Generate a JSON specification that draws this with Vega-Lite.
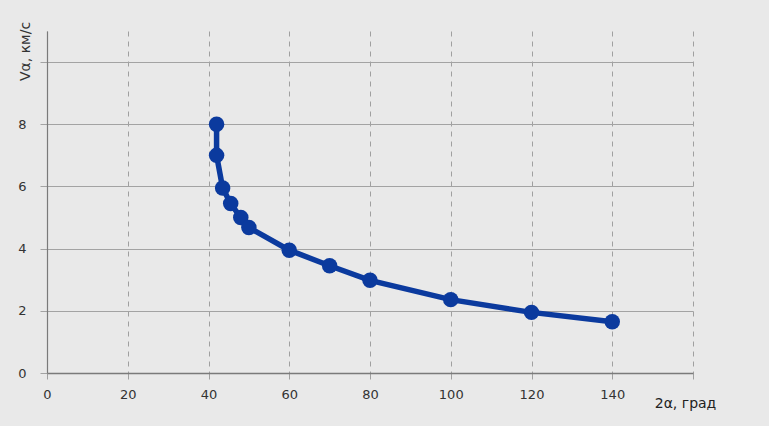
{
  "$schema": "https://vega.github.io/schema/vega-lite/v6.json",
  "autosize": "none",
  "width": 646,
  "height": 342,
  "padding": {"left": 47, "top": 31, "right": 76, "bottom": 53},
  "background": "#e9e9e9",
  "config": {
    "view": {"stroke": null},
    "font": "DejaVu Sans"
  },
  "data": {
    "values": [
      {"a": 42, "v": 8.0},
      {"a": 42, "v": 7.0},
      {"a": 43.5, "v": 5.95},
      {"a": 45.5, "v": 5.45},
      {"a": 48, "v": 5.0},
      {"a": 50, "v": 4.68},
      {"a": 60, "v": 3.95},
      {"a": 70, "v": 3.45},
      {"a": 80, "v": 2.98},
      {"a": 100, "v": 2.36},
      {"a": 120, "v": 1.95},
      {"a": 140, "v": 1.65}
    ]
  },
  "encoding": {
    "x": {
      "field": "a",
      "type": "quantitative",
      "scale": {"domain": [0, 160], "nice": false, "zero": false},
      "axis": {
        "values": [0, 20, 40, 60, 80, 100, 120, 140, 160],
        "labelExpr": "datum.value == 160 ? '' : datum.label",
        "labelFlush": false,
        "grid": true,
        "gridDash": [5, 5],
        "gridColor": "#a0a0a0",
        "gridOpacity": 1,
        "domainColor": "#7a7a7a",
        "domainWidth": 1.5,
        "tickColor": "#a0a0a0",
        "tickSize": 6,
        "labelFontSize": 13,
        "labelColor": "#333333",
        "labelPadding": 9,
        "title": "2α, град",
        "titleFontSize": 14,
        "titleFontWeight": "normal",
        "titleColor": "#222222",
        "titleX": 638,
        "titleY": 30,
        "titleAlign": "center",
        "titleBaseline": "middle"
      }
    },
    "y": {
      "field": "v",
      "type": "quantitative",
      "scale": {"domain": [0, 11], "nice": false},
      "axis": {
        "values": [0, 2, 4, 6, 8, 10],
        "labelExpr": "datum.value == 10 ? '' : datum.label",
        "labelFlush": false,
        "grid": true,
        "gridColor": "#a3a3a3",
        "gridOpacity": 1,
        "gridWidth": 1.2,
        "domainColor": "#7a7a7a",
        "domainWidth": 1.2,
        "tickColor": "#a3a3a3",
        "tickSize": 7,
        "labelFontSize": 13,
        "labelColor": "#333333",
        "labelPadding": 14,
        "title": "Vα, км/с",
        "titleFontSize": 14,
        "titleFontWeight": "normal",
        "titleColor": "#333333",
        "titleX": -22,
        "titleY": 20,
        "titleAlign": "center",
        "titleBaseline": "middle"
      }
    }
  },
  "layer": [
    {
      "mark": {"type": "line", "color": "#0b3a9e", "strokeWidth": 5.5}
    },
    {
      "mark": {"type": "point", "filled": true, "color": "#0b3a9e", "size": 240, "opacity": 1}
    }
  ]
}
